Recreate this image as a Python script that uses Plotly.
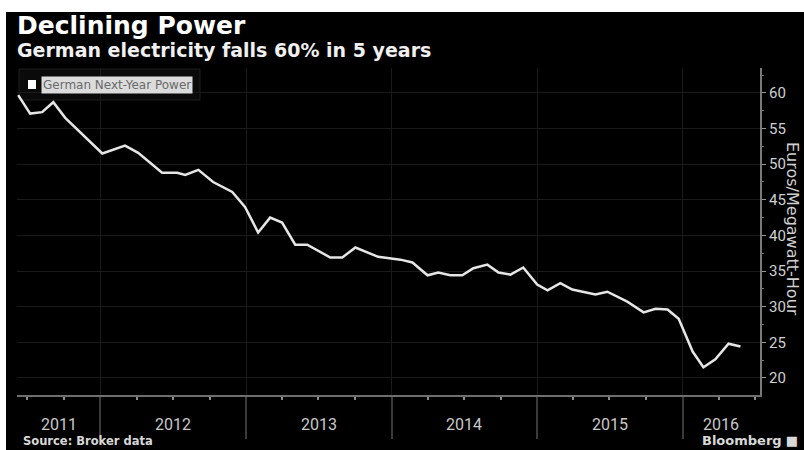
import plotly.graph_objects as go
import pandas as pd

# ---- data ----
dates = ["2011-06-09", "2011-07-09", "2011-08-08", "2011-09-05", "2011-10-05",
         "2012-01-06", "2012-03-03", "2012-04-05", "2012-06-04", "2012-07-12",
         "2012-08-01", "2012-09-03", "2012-10-10", "2012-11-27", "2012-12-29",
         "2013-01-31", "2013-03-02", "2013-04-01", "2013-05-04", "2013-06-03",
         "2013-07-31", "2013-08-30", "2013-10-02", "2013-11-28",
         "2014-01-23", "2014-02-22", "2014-04-01", "2014-04-28", "2014-05-28",
         "2014-06-27", "2014-07-25", "2014-08-29", "2014-09-26", "2014-10-26",
         "2014-11-27",
         "2015-01-01", "2015-01-27", "2015-02-28", "2015-03-30", "2015-04-27",
         "2015-05-27", "2015-06-26", "2015-08-15", "2015-09-25", "2015-10-25",
         "2015-11-24", "2015-12-22",
         "2016-01-26", "2016-02-22", "2016-03-23", "2016-04-25", "2016-05-25"]
power = [59.7, 57.1, 57.3, 58.7, 56.5,
         51.5, 52.6, 51.6, 48.8, 48.8, 48.5, 49.2, 47.5, 46.1, 44.0,
         40.4, 42.5, 41.8, 38.7, 38.7, 36.9, 36.9, 38.3, 37.0,
         36.6, 36.2, 34.4, 34.8, 34.4, 34.4, 35.4, 35.9, 34.8, 34.5, 35.5,
         33.1, 32.3, 33.3, 32.4, 32.1, 31.7, 32.1, 30.7, 29.2, 29.7, 29.6, 28.3,
         23.7, 21.5, 22.6, 24.8, 24.4]
years = ["2011", "2012", "2013", "2014", "2015", "2016"]
y_ticks = [20, 25, 30, 35, 40, 45, 50, 55, 60]

title = "Declining Power"
subtitle = "German electricity falls 60% in 5 years"
series_name = "German Next-Year Power"
y_title = "Euros/Megawatt-Hour"
source = "Source: Broker data"
brand = "Bloomberg"

# ---- layout geometry ----
W, H = 804, 450
L, R, T, B = 17, 44, 68, 55
PW, PH = W - L - R, H - T - B
x_start, x_end = pd.Timestamp("2011-06-06"), pd.Timestamp("2016-07-13")


def px(xp):
    return (xp - L) / PW


def py(yp):
    return (H - B - yp) / PH


year_starts = [pd.Timestamp(f"{y}-01-01") for y in years[1:]]
quarters = [d for d in pd.date_range("2011-07-01", "2016-07-01", freq="QS")]
label_pos = []
for y in years:
    a = max(pd.Timestamp(f"{y}-01-01"), x_start)
    b = min(pd.Timestamp(f"{int(y)+1}-01-01"), x_end)
    label_pos.append(a + (b - a) / 2)

fig = go.Figure()
fig.add_trace(go.Scatter(x=pd.to_datetime(dates), y=power, mode="lines",
                         name=series_name,
                         line=dict(color="#e6e6e6", width=2.5),
                         showlegend=False))

grid = "#1a1a1a"
fig.update_xaxes(range=[x_start, x_end], type="date",
                 tickvals=year_starts, showticklabels=False,
                 ticks="outside", ticklen=42, tickcolor="#3a3a3a", tickwidth=1.5,
                 showgrid=True, gridcolor=grid, gridwidth=1,
                 showline=True, linecolor="#6e6e6e", linewidth=2,
                 zeroline=False,
                 minor=dict(tickvals=quarters, ticks="outside", ticklen=3,
                            tickcolor="#8a8a8a", showgrid=False))
fig.update_yaxes(range=[17.6, 63.5], side="right", tickvals=y_ticks,
                 ticks="outside", ticklen=4, tickcolor="#9a9a9a",
                 tickfont=dict(family="Roboto", size=15, color="#d0d0d0"),
                 showgrid=True, gridcolor=grid, gridwidth=1,
                 showline=True, linecolor="#7a7a7a", linewidth=2,
                 zeroline=False,
                 minor=dict(dtick=2.5, ticks="outside", ticklen=2,
                            tickcolor="#777777", showgrid=False))

shapes = [
    # white strips at top and left edges
    dict(type="rect", xref="paper", yref="paper", x0=px(0), x1=px(W), y0=py(12), y1=py(0),
         fillcolor="white", line=dict(width=0), layer="above"),
    dict(type="rect", xref="paper", yref="paper", x0=px(0), x1=px(6), y0=py(H), y1=py(0),
         fillcolor="white", line=dict(width=0), layer="above"),
    # legend frame
    dict(type="rect", xref="paper", yref="paper", x0=px(19), x1=px(200), y0=py(100), y1=py(69),
         fillcolor="#0a0a0a", line=dict(color="#1e1e1e", width=1), layer="below"),
    # legend swatch
    dict(type="rect", xref="paper", yref="paper", x0=px(28), x1=px(36), y0=py(89), y1=py(80),
         fillcolor="white", line=dict(width=0), layer="above"),
]

ann = [
    dict(text=f"<b>{title}</b>", x=px(15), y=py(9), xanchor="left", yanchor="top",
         font=dict(family="DejaVu Sans", size=25, color="white")),
    dict(text=f"<b>{subtitle}</b>", x=px(15), y=py(37), xanchor="left", yanchor="top",
         font=dict(family="DejaVu Sans", size=19, color="#f0f0f0")),
    dict(text=series_name, x=px(41), y=py(85), xanchor="left", yanchor="middle",
         bgcolor="#dcdcdc", borderpad=1,
         font=dict(family="DejaVu Sans", size=12, color="#6a6a6a")),
    dict(text=y_title, x=px(793), y=py(229), xanchor="center", yanchor="middle",
         textangle=90, font=dict(family="DejaVu Sans", size=16, color="#d0d0d0")),
    dict(text=f"<b>{source}</b>", x=px(21), y=py(441), xanchor="left", yanchor="middle",
         font=dict(family="DejaVu Sans", size=11.5, color="#d8d8d8")),
    dict(text=f"<b>{brand}</b> ■", x=px(700), y=py(440), xanchor="left", yanchor="middle",
         font=dict(family="DejaVu Sans", size=13, color="#d8d8d8")),
]
for lab, pos in zip(years, label_pos):
    ann.append(dict(text=lab, x=pos, xref="x", y=py(424), yref="paper",
                    xanchor="center", yanchor="middle",
                    font=dict(family="Roboto", size=16, color="#c8c8c8")))
for a in ann:
    a.setdefault("xref", "paper")
    a.setdefault("yref", "paper")
    a["showarrow"] = False

fig.update_layout(width=W, height=H, margin=dict(l=L, r=R, t=T, b=B),
                  paper_bgcolor="black", plot_bgcolor="black",
                  shapes=shapes, annotations=ann, showlegend=False)

fig.write_html("out.html", config={"displayModeBar": False},
               post_script="document.body.style.margin='0';document.body.style.padding='0';")
